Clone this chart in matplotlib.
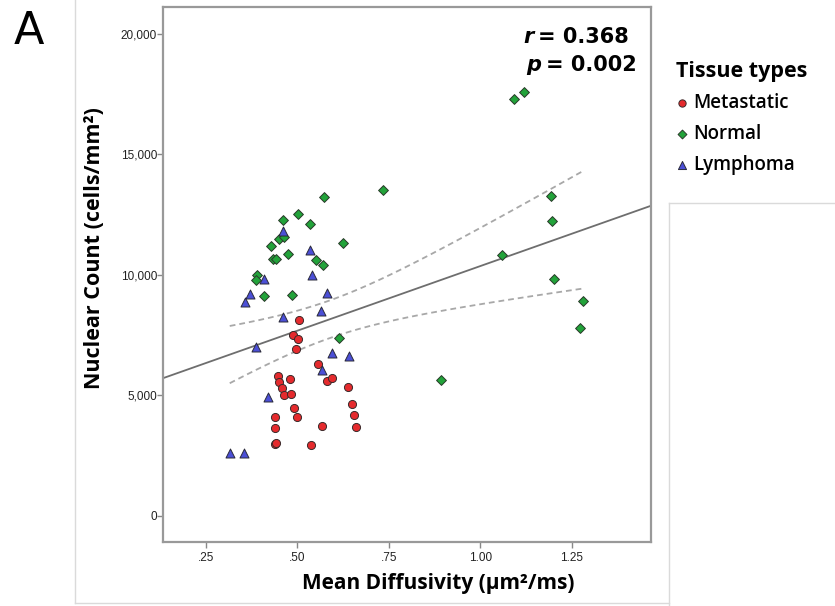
import numpy as np
import matplotlib.pyplot as plt
from matplotlib.lines import Line2D

# ==========================================================
# DATA
# Mean diffusivity (um2/ms) and nuclear count (cells/mm2)
metastatic_md = [0.505, 0.487, 0.501, 0.497, 0.556, 0.446, 0.479, 0.580, 0.595,
                 0.450, 0.457, 0.638, 0.464, 0.482, 0.491, 0.649, 0.440, 0.499,
                 0.654, 0.438, 0.568, 0.661, 0.438, 0.442, 0.536]
metastatic_nc = [8133, 7510, 7344, 6917, 6307, 5822, 5697, 5602, 5714,
                 5548, 5299, 5365, 5021, 5050, 4469, 4635, 4108, 4095,
                 4178, 3651, 3734, 3705, 2988, 3017, 2934]

normal_md = [0.573, 0.501, 0.461, 0.534, 0.450, 0.463, 0.429, 0.475, 0.432,
             0.442, 0.550, 0.571, 0.626, 0.389, 0.386, 0.409, 0.485, 0.614,
             0.735, 0.892, 1.093, 1.119, 1.194, 1.196, 1.060, 1.201, 1.282, 1.274]
normal_nc = [13224, 12519, 12270, 12129, 11506, 11589, 11216, 10884, 10664,
             10664, 10622, 10427, 11315, 10000, 9805, 9141, 9170, 7398,
             13510, 5643, 17303, 17606, 13266, 12253, 10817, 9846, 8921, 7788]

lymphoma_md = [0.461, 0.534, 0.409, 0.541, 0.370, 0.357, 0.580, 0.565, 0.461,
               0.386, 0.595, 0.642, 0.568, 0.420, 0.315, 0.353]
lymphoma_nc = [11826, 11037, 9822, 9988, 9199, 8880, 9241, 8506, 8270,
               7000, 6776, 6639, 6058, 4950, 2627, 2627]

groups = ["Metastatic", "Normal", "Lymphoma"]
x_ticks = [0.25, 0.50, 0.75, 1.00, 1.25]
x_ticklabels = [".25", ".50", ".75", "1.00", "1.25"]
y_ticks = [0, 5000, 10000, 15000, 20000]
y_ticklabels = ["0", "5,000", "10,000", "15,000", "20,000"]
r_text = "= 0.368"
p_text = "= 0.002"

# ==========================================================
# LINEAR FIT + 95% CI OF THE MEAN
x_all = np.array(metastatic_md + normal_md + lymphoma_md)
y_all = np.array(metastatic_nc + normal_nc + lymphoma_nc)
n = len(x_all)
slope, intercept = np.polyfit(x_all, y_all, 1)
resid = y_all - (intercept + slope*x_all)
s_err = np.sqrt(np.sum(resid**2)/(n - 2))
x_mean = x_all.mean()
sxx = np.sum((x_all - x_mean)**2)
t_crit = 1.995  # t(0.975, df ~ 67)

XLIM = (0.1333, 1.4672)
YLIM = (-1080, 21120)

W, H = 835, 606
fig = plt.figure(figsize=(W/100, H/100), dpi=100)
ax = fig.add_axes([163.3/W, 1 - 542/H, (651 - 163.3)/W, (542 - 7)/H])

xl = np.linspace(XLIM[0], XLIM[1], 50)
ax.plot(xl, intercept + slope*xl, color='#6e6e6e', lw=1.3, zorder=2)
xc = np.linspace(x_all.min(), x_all.max(), 100)
half = t_crit*s_err*np.sqrt(1/n + (xc - x_mean)**2/sxx)
yc = intercept + slope*xc
ax.plot(xc, yc + half, color='#a8a8a8', lw=1.3, ls=(0, (3.2, 2.2)), zorder=2)
ax.plot(xc, yc - half, color='#a8a8a8', lw=1.3, ls=(0, (3.2, 2.2)), zorder=2)

ax.scatter(metastatic_md, metastatic_nc, s=34, marker='o', c='#e52a2d',
           edgecolors='#3a2a2a', linewidths=0.7, zorder=3, label=groups[0])
ax.scatter(normal_md, normal_nc, s=25, marker='D', c='#22a33a',
           edgecolors='#2a3a2a', linewidths=0.7, zorder=3, label=groups[1])
ax.scatter(lymphoma_md, lymphoma_nc, s=42, marker='^', c='#4b4fd6',
           edgecolors='#2a2a3a', linewidths=0.7, zorder=3, label=groups[2])

ax.set_xlim(*XLIM)
ax.set_ylim(*YLIM)
ax.set_xticks(x_ticks)
ax.set_xticklabels(x_ticklabels)
ax.set_yticks(y_ticks)
ax.set_yticklabels(y_ticklabels)
for sp in ax.spines.values():
    sp.set_color('#999999')
    sp.set_linewidth(1.6)
ax.tick_params(direction='out', length=4, width=1, color='#888888',
               labelsize=8.5, labelcolor='#222222')
ax.tick_params(axis='y', pad=0.5)
ax.tick_params(axis='x', pad=3)
for lab in ax.get_xticklabels() + ax.get_yticklabels():
    lab.set_fontfamily('Liberation Sans')

# axis labels
fig.text(438/W, 1 - 583/H, "Mean Diffusivity (µm²/ms)", ha='center', va='center',
         fontsize=15, fontweight='bold', family='Open Sans')
fig.text(95/W, 1 - 248/H, "Nuclear Count (cells/mm²)", ha='center', va='center',
         rotation=90, fontsize=15.5, fontweight='bold', family='Open Sans')

# r / p annotation
t1 = fig.text(629/W, 1 - 37/H, r_text, ha='right', va='center', fontsize=15,
              fontweight='bold', family='DejaVu Sans')
t2 = fig.text(637/W, 1 - 65/H, p_text, ha='right', va='center', fontsize=15,
              fontweight='bold', family='DejaVu Sans')
ax.annotate("r", xy=(0, 0.5), xycoords=t1, xytext=(-3.5, 0), textcoords='offset points',
            ha='right', va='center', fontsize=15, fontweight='bold', style='italic',
            family='DejaVu Sans')
ax.annotate("p", xy=(0, 0.5), xycoords=t2, xytext=(-3.5, 0), textcoords='offset points',
            ha='right', va='center', fontsize=15, fontweight='bold', style='italic',
            family='DejaVu Sans')

# panel letter
fig.text(29/W, 1 - 31/H, "A", ha='center', va='center', fontsize=32, family='DejaVu Sans')

# legend
leg = ax.legend(loc='upper left', bbox_to_anchor=(676/W, 1 - 61/H),
                bbox_transform=fig.transFigure, frameon=False,
                title="Tissue types", alignment='left',
                prop={'family': 'Open Sans', 'size': 13.5, 'weight': 'semibold'},
                title_fontproperties={'family': 'Open Sans', 'size': 15.5, 'weight': 'bold'},
                handlelength=0.6, handletextpad=0.3, labelspacing=0.58,
                borderpad=0, borderaxespad=0, markerscale=0.9)

# screenshot edges
edge = '#dadada'
fig.add_artist(Line2D([75/W, 75/W], [1, 1 - 603/H], transform=fig.transFigure, color=edge, lw=1))
fig.add_artist(Line2D([75/W, 669/W], [1 - 603/H, 1 - 603/H], transform=fig.transFigure, color=edge, lw=1))
fig.add_artist(Line2D([669/W, 669/W], [1 - 203/H, 0], transform=fig.transFigure, color=edge, lw=1))
fig.add_artist(Line2D([669/W, 1], [1 - 203/H, 1 - 203/H], transform=fig.transFigure, color=edge, lw=1))

fig.savefig("out.png", dpi=100)
